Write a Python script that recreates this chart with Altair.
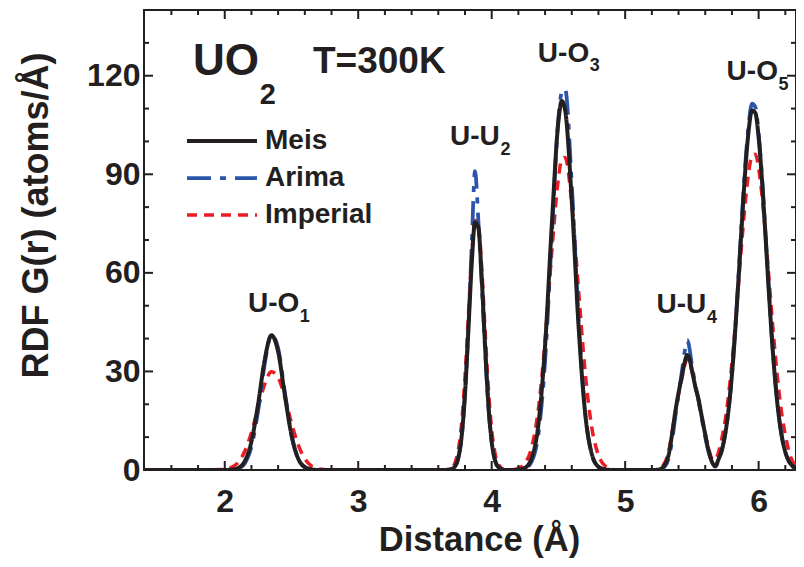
import altair as alt
import pandas as pd

FONT = "Liberation Sans"
INK = "#231f20"

# ---------------- data ----------------
r = [1.40, 1.60, 1.80, 2.00, 2.05, 2.10, 2.15, 2.20, 2.25, 2.30, 2.35, 2.40, 2.45, 2.50, 2.55, 2.60,
     2.65, 2.70, 2.75, 2.80, 3.00, 3.20, 3.40, 3.60,
     3.65, 3.70, 3.725, 3.75, 3.775, 3.80, 3.825, 3.85, 3.875, 3.90, 3.925, 3.95, 3.975, 4.00, 4.025, 4.05, 4.10,
     4.15, 4.20, 4.25, 4.30, 4.35, 4.40, 4.45, 4.50, 4.525, 4.55, 4.60, 4.65, 4.70, 4.75, 4.80, 4.85, 4.90,
     4.95, 5.00, 5.10, 5.20,
     5.25, 5.30, 5.325, 5.35, 5.375, 5.40, 5.425, 5.45, 5.465, 5.475, 5.50, 5.525, 5.55, 5.575, 5.60, 5.625,
     5.65, 5.675,
     5.70, 5.725, 5.75, 5.775, 5.80, 5.825, 5.85, 5.875, 5.90, 5.925, 5.95, 5.975, 6.00, 6.025, 6.05, 6.075,
     6.10, 6.125, 6.15, 6.175, 6.20, 6.225, 6.25, 6.275, 6.30]

meis = [0, 0, 0, 0, 0.1, 0.6, 2.7, 8.7, 20.1, 33.7, 41.0, 36.0, 22.9, 10.6, 3.5, 0.9,
        0.2, 0, 0, 0, 0, 0, 0, 0,
        0, 0.3, 1.1, 3.8, 10.3, 23.2, 42.2, 62.5, 75.3, 73.7, 58.7, 38.1, 20.0, 8.6, 3.0, 0.9, 0,
        0, 0.1, 0.7, 3.7, 13.9, 37.8, 74.4, 106.2, 112.3, 109.6, 82.0, 44.4, 17.4, 4.9, 1.0, 0.2, 0,
        0, 0, 0, 0,
        0.1, 1.8, 4.5, 10.5, 17.5, 23.5, 28.5, 33.5, 35.0, 34.6, 30.5, 25.5, 21.5, 16.0, 10.8, 6.0,
        2.5, 1.2,
        3.3, 6.2, 11.1, 18.5, 29.0, 42.6, 58.6, 75.5, 91.2, 103.2, 109.4, 108.7, 101.2, 88.3, 72.2, 55.3,
        39.7, 26.7, 16.8, 9.9, 5.5, 2.8, 1.4, 0.6, 0.2]

arima = [0, 0, 0, 0, 0, 0.4, 2.0, 7.1, 18.0, 32.4, 41.2, 37.1, 23.7, 10.7, 3.4, 0.8,
         0.1, 0, 0, 0, 0, 0, 0, 0,
         0, 0.3, 1.0, 3.6, 10.0, 23.0, 43.0, 68.0, 91.0, 76.0, 57.0, 37.0, 19.5, 8.4, 2.9, 0.9, 0,
         0, 0, 0.4, 2.6, 10.9, 33.0, 70.6, 107.1, 115.0, 116.0, 87.0, 46.7, 17.7, 4.8, 0.9, 0.1, 0,
         0, 0, 0, 0,
         0, 1.2, 3.5, 8.5, 16.0, 23.0, 30.0, 37.0, 39.5, 38.5, 32.0, 26.0, 21.0, 15.5, 10.0, 5.5,
         2.5, 1.0,
         3.0, 6.0, 11.0, 18.5, 29.0, 43.0, 59.5, 77.0, 93.0, 105.0, 111.5, 110.5, 102.5, 89.5, 73.0, 56.0,
         40.0, 27.0, 17.0, 10.0, 5.5, 2.8, 1.3, 0.5, 0.2]

imperial = [0, 0, 0, 0.2, 0.8, 2.3, 5.7, 11.4, 19.0, 26.2, 29.9, 28.2, 22.1, 14.3, 7.7, 3.4,
            1.2, 0.4, 0.1, 0, 0, 0, 0, 0,
            0, 0.7, 2.2, 6.1, 14.3, 28.3, 46.7, 64.9, 75.9, 74.6, 61.7, 42.8, 25.0, 12.3, 5.1, 1.8, 0.1,
            0.1, 0.5, 2.1, 7.0, 18.6, 39.3, 66.2, 88.8, 94.5, 95.1, 81.1, 55.2, 29.9, 12.9, 4.5, 1.2, 0.3,
            0, 0, 0, 0,
            0.3, 2.5, 5.5, 11.0, 17.5, 23.0, 28.0, 32.5, 33.8, 33.5, 30.0, 25.5, 21.0, 16.0, 11.0, 6.5,
            3.5, 3.0,
            5.5, 9.7, 15.3, 22.9, 32.6, 44.2, 57.0, 69.9, 81.5, 90.5, 95.6, 96.1, 91.9, 83.6, 72.4, 59.6,
            46.7, 34.8, 24.7, 16.6, 10.7, 6.0, 3.0, 1.5, 0.6]

series = ["Meis", "Arima", "Imperial"]
colors = [INK, "#2b55a8", "#ed1c24"]
dashes = [[1, 0], [24, 9, 6, 9], [10, 7]]
widths = [4, 3.5, 3.5]

# annotations (text, position in data units, font size)
ann_text = ["UO", "2", "T=300K", "U-O", "1", "U-U", "2", "U-O", "3", "U-U", "4", "U-O", "5"]
ann_r = [1.762, 2.262, 2.661, 2.174, 2.562, 3.687, 4.066, 4.346, 4.734, 5.235, 5.614, 5.76, 6.148]
ann_g = [120.2, 111.4, 120.7, 48.2, 45.1, 98.9, 95.9, 124.3, 121.4, 47.7, 44.8, 118.7, 115.7]
ann_size = [44, 29, 37, 28, 18, 28, 18, 28, 18, 28, 18, 28, 18]

x_major = [2, 3, 4, 5, 6]
x_minor = [1.6, 1.8, 2.2, 2.4, 2.6, 2.8, 3.2, 3.4, 3.6, 3.8, 4.2, 4.4, 4.6, 4.8, 5.2, 5.4, 5.6, 5.8, 6.2]
y_major = [0, 30, 60, 90, 120]
y_tick_major = [30, 60, 90, 120]
y_minor = [10, 20, 40, 50, 70, 80, 100, 110, 130]

# ---------------- tables ----------------
rows = []
for name, vals in (("Imperial", imperial), ("Arima", arima), ("Meis", meis)):
    for xv, gv in zip(r, vals):
        rows.append({"r": xv, "G": gv, "series": name})
df = pd.DataFrame(rows)
ann = pd.DataFrame({"t": ann_text, "r": ann_r, "G": ann_g, "s": ann_size})

W, H = 652, 460
xs = alt.Scale(domain=[1.395, 6.28], nice=False, zero=False)
ys = alt.Scale(domain=[0, 140], nice=False)

legend = alt.Legend(orient="none", legendX=64, legendY=117, title=None, padding=0,
                    symbolType="M-7,0H7", symbolSize=100, symbolStrokeWidth=4,
                    labelFont=FONT, labelFontSize=28, labelFontWeight="bold", labelColor=INK,
                    labelOffset=29, rowPadding=9)

XAX = alt.Axis(orient="bottom", values=x_major, format="d", ticks=False, domain=False, grid=False,
               labelFont=FONT, labelFontSize=32, labelFontWeight="bold", labelColor=INK,
               labelPadding=16, title="Distance (Å)", titleFont=FONT, titleFontSize=34.5,
               titleFontWeight="bold", titleColor=INK, titleBaseline="alphabetic",
               titleY=80, titleX=335)
YAX = alt.Axis(orient="left", values=y_major, ticks=False, domain=False, grid=False,
               labelFont=FONT, labelFontSize=32, labelFontWeight="bold", labelColor=INK,
               labelPadding=4, title="RDF G(r) (atoms/Å)", titleFont=FONT, titleFontSize=36,
               titleFontWeight="bold", titleColor=INK, titleAngle=270, titleX=-97, titleY=205,
               titleAlign="center", titleBaseline="alphabetic")

lines = alt.Chart(df).mark_line(interpolate="monotone", clip=True).encode(
    x=alt.X("r:Q", scale=xs, axis=XAX),
    y=alt.Y("G:Q", scale=ys, axis=YAX),
    color=alt.Color("series:N", scale=alt.Scale(domain=series, range=colors), legend=legend),
    strokeDash=alt.StrokeDash("series:N", scale=alt.Scale(domain=series, range=dashes), legend=legend),
    strokeWidth=alt.StrokeWidth("series:N", scale=alt.Scale(domain=series, range=widths), legend=None),
    detail="series:N",
)


def xticks(vals, y1, y2):
    return alt.Chart(pd.DataFrame({"v": vals})).mark_rule(color=INK, strokeWidth=2).encode(
        x=alt.X("v:Q", scale=xs, axis=XAX), y=alt.value(y1), y2=alt.value(y2))


def yticks(vals, x1, x2):
    return alt.Chart(pd.DataFrame({"v": vals})).mark_rule(color=INK, strokeWidth=2).encode(
        y=alt.Y("v:Q", scale=ys, axis=YAX), x=alt.value(x1), x2=alt.value(x2))


tick_layers = [
    xticks(x_major, H, H - 9), xticks(x_minor, H, H - 5),
    xticks(x_major, 0, 9), xticks(x_minor, 0, 5),
    yticks(y_tick_major, 0, 9), yticks(y_minor, 0, 5),
    yticks(y_tick_major, W, W - 9), yticks(y_minor, W, W - 5),
]

texts = alt.Chart(ann).mark_text(font=FONT, fontWeight="bold", color=INK, align="left",
                                 baseline="alphabetic").encode(
    x=alt.X("r:Q", scale=xs, axis=XAX),
    y=alt.Y("G:Q", scale=ys, axis=YAX),
    text="t:N",
    size=alt.Size("s:Q", scale=None, legend=None),
)

chart = alt.layer(lines, *tick_layers, texts).properties(
    width=W, height=H,
    padding={"left": 136, "top": 2, "right": 0, "bottom": 89},
    autosize=alt.AutoSizeParams(type="none"),
    background="white",
).configure_view(stroke=INK, strokeWidth=2)

chart.save("out.html", embed_options={"renderer": "svg", "actions": False})
